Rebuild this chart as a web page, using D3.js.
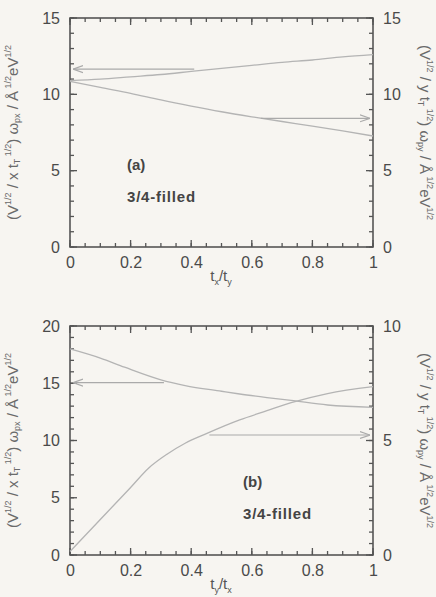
<!DOCTYPE html>
<html>
<head>
<meta charset="utf-8">
<script src="https://cdn.jsdelivr.net/npm/d3@7"></script>
<style>
  body { margin: 0; background: #f7f5f1; }
  svg { display: block; }
  .tick text { font-family: "Liberation Sans", Arial, sans-serif; font-size: 16px; fill: #4a4a4a; }
</style>
</head>
<body>
<script>
// panel (a): x = t_x/t_y
var aX = [0, 0.1, 0.2, 0.3, 0.4, 0.5, 0.6, 0.7, 0.8, 0.9, 1.0];
var aLeft = [10.9, 11.0, 11.15, 11.3, 11.5, 11.7, 11.9, 12.1, 12.25, 12.45, 12.6];
var aRight = [10.85, 10.45, 10.07, 9.63, 9.23, 8.86, 8.53, 8.22, 7.92, 7.6, 7.27];
// panel (b): x = t_y/t_x
var bX1 = [0, 0.1, 0.18, 0.3, 0.38, 0.5, 0.56, 0.65, 0.73, 0.85, 1.0];
var bLeft = [18.0, 17.2, 16.4, 15.3, 14.8, 14.3, 14.06, 13.75, 13.5, 13.1, 12.9];
var bX2 = [0, 0.05, 0.1, 0.15, 0.2, 0.26, 0.32, 0.38, 0.45, 0.56, 0.65, 0.73, 0.85, 1.0];
var bRight = [0.15, 0.85, 1.55, 2.25, 2.95, 3.8, 4.4, 4.88, 5.3, 5.9, 6.3, 6.65, 7.05, 7.35];

var xTicks = [0, 0.2, 0.4, 0.6, 0.8, 1];
var xTickLabels = ["0", "0.2", "0.4", "0.6", "0.8", "1"];

var W = 436, H = 597;
var svg = d3.select("body").append("svg").attr("width", W).attr("height", H);

svg.append("defs").append("marker")
  .attr("id", "arr")
  .attr("viewBox", "0 0 10 10")
  .attr("refX", 10).attr("refY", 5)
  .attr("markerWidth", 10).attr("markerHeight", 10)
  .attr("markerUnits", "userSpaceOnUse")
  .attr("orient", "auto")
  .append("path")
  .attr("d", "M0,1.5 L10,5 L0,8.5")
  .attr("fill", "none").attr("stroke", "#aaa").attr("stroke-width", 1.2);

var lineColor = "#b4b4b4";
var tickColor = "#555";

// inward tick marks along one edge
function ticks(g, vals, scale, horiz, pos, len) {
  g.append("g").selectAll("line").data(vals).enter().append("line")
    .attr("x1", function (d) { return horiz ? scale(d) : pos; })
    .attr("x2", function (d) { return horiz ? scale(d) : pos + len; })
    .attr("y1", function (d) { return horiz ? pos : scale(d); })
    .attr("y2", function (d) { return horiz ? pos + len : scale(d); })
    .attr("stroke", tickColor).attr("stroke-width", 1.3);
}

function panel(opt) {
  var left = 70, right = 373, top = opt.top, bottom = opt.top + 229;
  var x = d3.scaleLinear().domain([0, 1]).range([left, right]);
  var yL = d3.scaleLinear().domain([0, opt.lMax]).range([bottom, top]);
  var yR = d3.scaleLinear().domain([0, opt.rMax]).range([bottom, top]);
  var g = svg.append("g");

  var xMinor = d3.range(0, 1.0001, 0.05);
  var lMinor = d3.range(0, opt.lMax + 0.001, opt.lMinor);
  var rMinor = d3.range(0, opt.rMax + 0.001, opt.rMinor);
  ticks(g, xMinor, x, true, bottom, -4);
  ticks(g, xMinor, x, true, top, 4);
  ticks(g, lMinor, yL, false, left, 4);
  ticks(g, rMinor, yR, false, right, -4);
  ticks(g, xTicks, x, true, bottom, -7);
  ticks(g, xTicks, x, true, top, 7);
  ticks(g, opt.lTicks, yL, false, left, 7);
  ticks(g, opt.rTicks, yR, false, right, -7);

  // tick labels
  var ax = g.append("g").attr("transform", "translate(0," + bottom + ")")
    .call(d3.axisBottom(x).tickValues(xTicks).tickSize(0).tickPadding(10)
      .tickFormat(function (d, i) { return xTickLabels[i]; }));
  ax.select(".domain").remove();
  var al = g.append("g").attr("transform", "translate(" + left + ",0)")
    .call(d3.axisLeft(yL).tickValues(opt.lTicks).tickSize(0).tickPadding(10));
  al.select(".domain").remove();
  var ar = g.append("g").attr("transform", "translate(" + right + ",0)")
    .call(d3.axisRight(yR).tickValues(opt.rTicks).tickSize(0).tickPadding(10));
  ar.select(".domain").remove();

  g.append("rect")
    .attr("x", left).attr("y", top)
    .attr("width", right - left).attr("height", bottom - top)
    .attr("fill", "none").attr("stroke", tickColor).attr("stroke-width", 1.6);

  // curves
  var lineL = d3.line().curve(d3.curveMonotoneX)
    .x(function (d) { return x(d[0]); }).y(function (d) { return yL(d[1]); });
  var lineR = d3.line().curve(d3.curveMonotoneX)
    .x(function (d) { return x(d[0]); }).y(function (d) { return yR(d[1]); });
  g.append("path").attr("d", lineL(d3.zip(opt.xl, opt.left)))
    .attr("fill", "none").attr("stroke", lineColor).attr("stroke-width", 1.3);
  g.append("path").attr("d", lineR(d3.zip(opt.xr, opt.right)))
    .attr("fill", "none").attr("stroke", lineColor).attr("stroke-width", 1.3);

  // arrows pointing to the axes
  g.append("line")
    .attr("x1", x(opt.arrL[0])).attr("x2", x(0.01))
    .attr("y1", yL(opt.arrL[1])).attr("y2", yL(opt.arrL[1]))
    .attr("stroke", "#aaa").attr("stroke-width", 1.2).attr("marker-end", "url(#arr)");
  g.append("line")
    .attr("x1", x(opt.arrR[0])).attr("x2", x(0.99))
    .attr("y1", yR(opt.arrR[1])).attr("y2", yR(opt.arrR[1]))
    .attr("stroke", "#aaa").attr("stroke-width", 1.2).attr("marker-end", "url(#arr)");

  // panel labels
  g.append("text").attr("x", opt.lab[0]).attr("y", opt.lab[1])
    .attr("font-family", "Liberation Sans, Arial, sans-serif").attr("font-weight", "bold")
    .attr("font-size", 15).attr("fill", "#444").text(opt.name);
  g.append("text").attr("x", opt.lab[0]).attr("y", opt.lab[1] + 32)
    .attr("font-family", "Liberation Sans, Arial, sans-serif").attr("font-weight", "bold")
    .attr("font-size", 15).attr("fill", "#444").attr("letter-spacing", 0.8).text("3/4-filled");

  // x axis title
  var xt = g.append("text").attr("x", 221).attr("y", bottom + 34)
    .attr("text-anchor", "middle").attr("font-family", "Liberation Sans, Arial, sans-serif")
    .attr("font-size", 15).attr("fill", "#555");
  xt.append("tspan").text("t");
  xt.append("tspan").attr("font-size", 9).attr("dy", 4).text(opt.xs[0]);
  xt.append("tspan").attr("dy", -4).text("/t");
  xt.append("tspan").attr("font-size", 9).attr("dy", 4).text(opt.xs[1]);

  // y axis titles
  var mid = (top + bottom) / 2;
  yTitle(g, 14, mid, -90, "x", "px");
  yTitle(g, 424, mid, 90, "y", "py");
}

function yTitle(g, cx, cy, rot, comp, sub) {
  var t = g.append("text")
    .attr("transform", "translate(" + cx + "," + cy + ") rotate(" + rot + ")")
    .attr("text-anchor", "middle").attr("dominant-baseline", "middle")
    .attr("font-family", "Liberation Sans, Arial, sans-serif")
    .attr("font-size", 15).attr("fill", "#6a6a6a");
  t.append("tspan").text("(V");
  t.append("tspan").attr("font-size", 9).attr("dy", -5).text("1/2");
  t.append("tspan").attr("dy", 5).text(" / " + comp + " t");
  t.append("tspan").attr("font-size", 9).attr("dy", 4).text("T");
  t.append("tspan").attr("font-size", 9).attr("dy", -9).text(" 1/2");
  t.append("tspan").attr("dy", 5).text(") ω");
  t.append("tspan").attr("font-size", 9).attr("dy", 4).text(sub);
  t.append("tspan").attr("dy", -4).text(" / Å");
  t.append("tspan").attr("font-size", 9).attr("dy", -5).text(" 1/2");
  t.append("tspan").attr("dy", 5).text("eV");
  t.append("tspan").attr("font-size", 9).attr("dy", -5).text("1/2");
}

panel({
  top: 18, lMax: 15, rMax: 15, lMinor: 1, rMinor: 1,
  lTicks: [0, 5, 10, 15], rTicks: [0, 5, 10, 15],
  xl: aX, left: aLeft, xr: aX, right: aRight,
  arrL: [0.41, 11.65], arrR: [0.63, 8.43],
  lab: [127, 170], name: "(a)", xs: ["x", "y"]
});

panel({
  top: 326, lMax: 20, rMax: 10, lMinor: 1, rMinor: 0.5,
  lTicks: [0, 5, 10, 15, 20], rTicks: [0, 5, 10],
  xl: bX1, left: bLeft, xr: bX2, right: bRight,
  arrL: [0.31, 15.05], arrR: [0.46, 5.24],
  lab: [243, 487], name: "(b)", xs: ["y", "x"]
});
</script>
</body>
</html>
